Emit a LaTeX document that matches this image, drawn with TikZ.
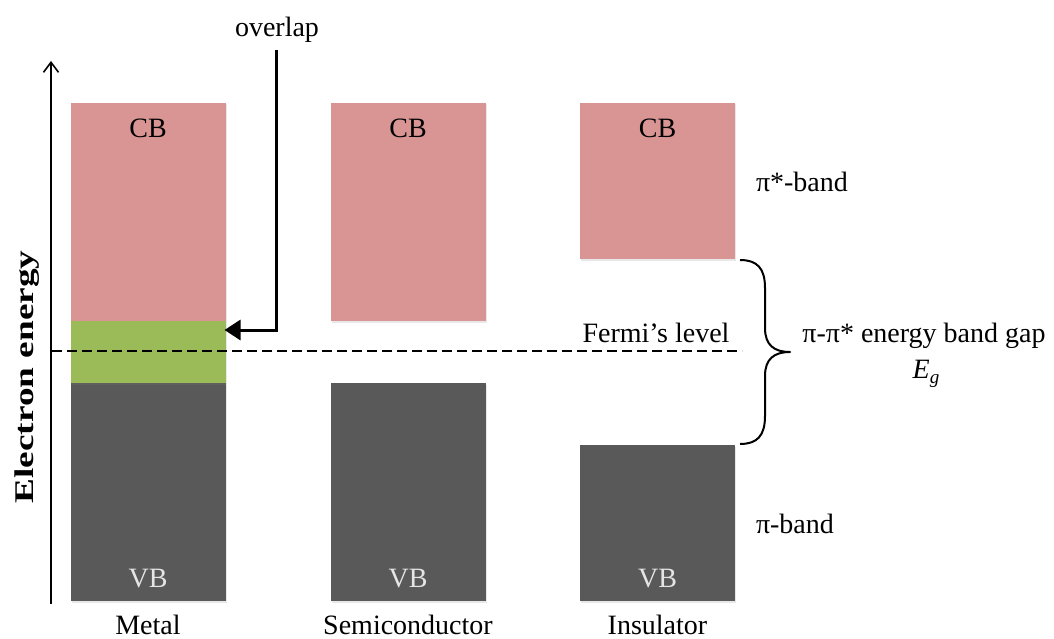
\documentclass[tikz,border=0pt]{standalone}
\usepackage{fontspec}
\setmainfont{Liberation Serif}
\newfontfamily\axisfont{Liberation Serif}[FakeStretch=1.38]
\usetikzlibrary{arrows.meta,calc,shadows}

\definecolor{cbpink}{HTML}{D99594}
\definecolor{ovgreen}{HTML}{9BBB59}
\definecolor{vbgray}{HTML}{595959}

\begin{document}
\begin{tikzpicture}[x=1pt,y=-1pt,
  every node/.style={font=\fontsize{28}{32}\selectfont, inner sep=0pt, outer sep=0pt},
  band/.style={draw=none, minimum width=155pt, anchor=north,
    drop shadow={shadow xshift=1.2pt, shadow yshift=-1.5pt, opacity=0.18}},
  cbband/.style={band, fill=cbpink},
  ovband/.style={band, fill=ovgreen},
  vbband/.style={band, fill=vbgray},
  lbl/.style={anchor=base},
  vblbl/.style={anchor=base, text=white!90!black},
  axisline/.style={line width=1.8pt, -{Straight Barb[length=10pt,width=15pt,line width=1.6pt]}},
  fermiline/.style={line width=1.5pt, dash pattern=on 10pt off 5pt},
  ovarrow/.style={line width=3pt, -{Triangle[length=16pt,width=20pt]}},
  bracestyle/.style={line width=2pt, line join=round}
]
\useasboundingbox (0,0) rectangle (1054,639);

% energy axis
\coordinate (axbot) at (51,604);
\coordinate (axtop) at (51,61);
\draw[axisline] (axbot) -- (axtop);
\node[rotate=90, anchor=base, font=\axisfont\bfseries\fontsize{27}{30}\selectfont] (axlabel) at (33,377) {Electron energy};

% metal
\node[cbband, minimum height=218pt] (mcb) at (148,103) {};
\node[vbband, minimum height=218pt] (mvb) at (148,383) {};
\node[ovband, minimum height=62pt] (mov) at (148,321) {};
\node[lbl] (mcbl) at (148,138) {CB};
\node[vblbl] (mvbl) at (148,587) {VB};
\node[lbl] (mname) at (148,634) {Metal};

% semiconductor
\node[cbband, minimum height=218pt] (scb) at (408,103) {};
\node[vbband, minimum height=218pt] (svb) at (408,383) {};
\node[lbl] (scbl) at (408,138) {CB};
\node[vblbl] (svbl) at (408,587) {VB};
\node[lbl] (sname) at (408,634) {Semiconductor};

% insulator
\node[cbband, minimum height=156pt] (icb) at (657.5,103) {};
\node[vbband, minimum height=156pt] (ivb) at (657.5,445) {};
\node[lbl] (icbl) at (657.5,138) {CB};
\node[vblbl] (ivbl) at (657.5,587) {VB};
\node[lbl] (iname) at (657.5,634) {Insulator};

% Fermi level
\coordinate (fstart) at (52,351);
\coordinate (fend) at (742,351);
\draw[fermiline] (fstart) -- (fend);
\node[lbl] (fermi) at (656,342) {Fermi’s level};

% overlap pointer
\node[lbl] (ovtext) at (277,37) {overlap};
\coordinate (ovtop) at (276,50);
\coordinate (ovtip) at ($(mov.north east)+(-1,9)$);
\draw[ovarrow] (ovtop) |- (ovtip);

% band labels
\node[anchor=base west] (pistar) at (756,192) {π*-band};
\node[anchor=base west] (piband) at (756,533) {π-band};

% gap brace
\coordinate (btop) at (740,260);
\coordinate (bbot) at (740,444);
\coordinate (btip) at (790,352);
\draw[bracestyle] (btop) .. controls (757,260) and (765,268) .. (765,288)
  -- (765,328) .. controls (765,345) and (774,352) .. (btip)
  .. controls (774,352) and (765,359) .. (765,376)
  -- (765,416) .. controls (765,436) and (757,444) .. (bbot);
\node[lbl] (gap) at (924,342) {π-π* energy band gap};
\node[lbl] (eg) at (926,378) {\itshape E\raisebox{-5pt}{\fontsize{19}{20}\selectfont g}};
\end{tikzpicture}
\end{document}
